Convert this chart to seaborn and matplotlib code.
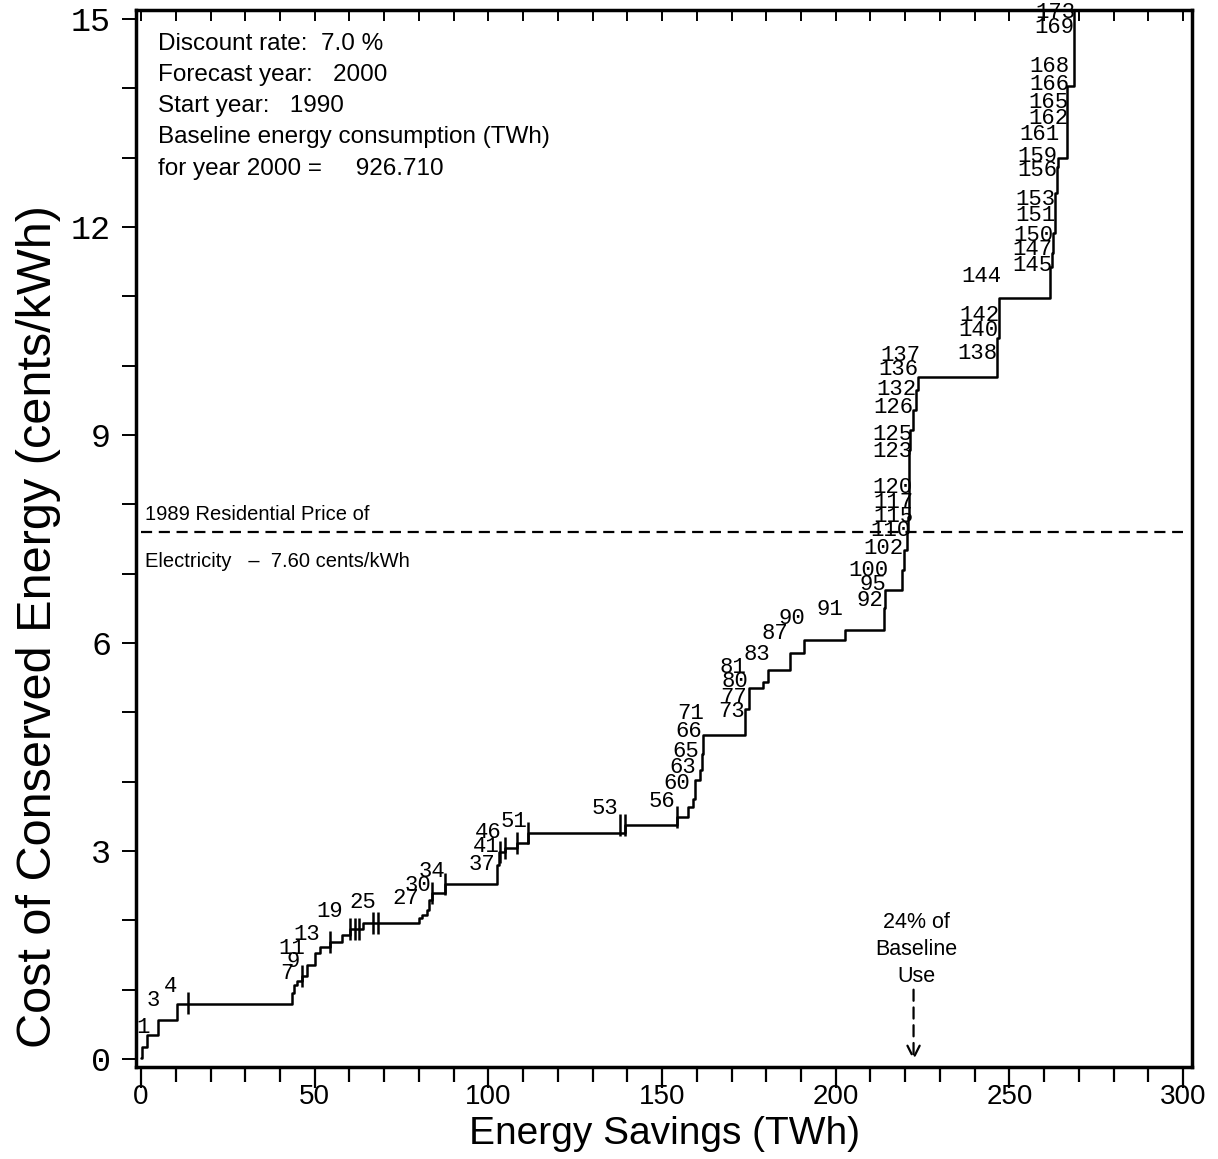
import numpy as np
import pandas as pd
import matplotlib
matplotlib.use("Agg")
import matplotlib.pyplot as plt
import seaborn as sns

# ---------------- data ----------------
step_x = [0.0, 0.3, 1.6, 5.0, 10.2, 43.4, 44.0, 45.0, 46.3, 47.7, 50.1, 51.5, 54.4,
          57.8, 60.2, 64.0, 79.9, 81.0, 82.3, 83.0, 83.7, 87.5, 102.4, 103.0, 104.8,
          108.2, 111.5, 139.4, 154.2, 157.6, 159.0, 159.5, 160.8, 161.4, 161.9,
          173.9, 175.0, 179.2, 180.6, 186.9, 190.9, 202.7, 213.9, 214.3, 219.0,
          219.8, 220.5, 220.9, 221.0, 221.2, 221.5, 222.3, 223.0, 223.6, 246.4,
          246.9, 261.7, 262.3, 262.6, 263.2, 263.6, 264.0, 266.5, 268.6, 269.4]
step_y = [0.02, 0.18, 0.35, 0.56, 0.80, 0.95, 1.07, 1.12, 1.19, 1.36, 1.53, 1.62, 1.69,
          1.79, 1.87, 1.96, 2.03, 2.08, 2.15, 2.30, 2.39, 2.53, 2.80, 2.99, 3.05,
          3.12, 3.26, 3.38, 3.49, 3.64, 3.75, 4.02, 4.17, 4.40, 4.68,
          5.05, 5.35, 5.44, 5.61, 5.85, 6.05, 6.19, 6.50, 6.76, 7.05,
          7.34, 7.60, 7.82, 8.30, 8.78, 9.07, 9.36, 9.65, 9.84, 10.40,
          10.97, 11.43, 11.62, 11.91, 12.49, 12.87, 12.99, 14.03, 15.30, 15.50]

# boundary marks between measures of near-equal cost
mark_x = [13.6, 46.3, 54.4, 60.2, 61.6, 62.6, 66.9, 68.3, 83.7, 87.5, 103.4, 104.8,
          108.2, 111.5, 137.9, 139.4, 154.2]
mark_y = [0.81, 1.19, 1.69, 1.87, 1.87, 1.87, 1.96, 1.96, 2.39, 2.53, 2.99, 3.05,
          3.12, 3.26, 3.38, 3.38, 3.49]

measure_labels = ["1", "3", "4", "7", "9", "11", "13", "19", "25", "27", "30", "34",
                  "37", "41", "46", "51", "53", "56", "60", "63", "65", "66", "71",
                  "73", "77", "80", "81", "83", "87", "90", "91", "92", "95", "100",
                  "102", "110", "115", "117", "120", "123", "125", "126", "132",
                  "136", "137", "138", "140", "142", "144", "145", "147", "150",
                  "151", "153", "156", "159", "161", "162", "165", "166", "168",
                  "169", "173"]
label_x = [0.6, 3.5, 8.4, 42.0, 43.8, 43.5, 47.8, 54.4, 63.9, 76.3, 79.8, 83.8,
           98.2, 99.3, 99.9, 107.4, 133.6, 150.0, 154.3, 156.1, 156.9, 157.8, 158.1,
           169.9, 170.5, 171.0, 170.5, 177.4, 182.6, 187.4, 198.4, 209.9, 210.8, 209.3,
           213.6, 215.7, 216.5, 216.5, 216.2, 216.2, 216.2, 216.5, 217.4,
           218.0, 218.5, 240.7, 241.0, 241.3, 241.9, 256.6, 256.6, 256.8,
           257.4, 257.4, 258.0, 258.0, 258.6, 261.2, 261.2, 261.4, 261.4,
           262.9, 263.2]
label_y = [0.46, 0.84, 1.04, 1.24, 1.41, 1.60, 1.79, 2.13, 2.25, 2.31, 2.50, 2.71,
           2.81, 3.06, 3.26, 3.42, 3.62, 3.71, 3.97, 4.21, 4.44, 4.73, 4.98,
           5.01, 5.22, 5.44, 5.65, 5.83, 6.13, 6.36, 6.48, 6.62, 6.84, 7.04,
           7.36, 7.62, 7.83, 8.03, 8.24, 8.76, 9.01, 9.39, 9.66,
           9.94, 10.15, 10.18, 10.50, 10.73, 11.28, 11.45, 11.67, 11.87,
           12.17, 12.39, 12.82, 13.01, 13.33, 13.57, 13.80, 14.06, 14.32,
           14.87, 15.10]

price_1989 = 7.60
baseline_twh = 926.710
baseline_share = 0.24
info_lines = ["Discount rate:  7.0 %",
              "Forecast year:   2000",
              "Start year:   1990",
              "Baseline energy consumption (TWh)",
              "for year 2000 =     926.710"]
x_ticks = [0, 50, 100, 150, 200, 250, 300]
y_ticks = [0, 3, 6, 9, 12, 15]

# ---------------- plot ----------------
sns.set_theme(style="ticks")
plt.rcParams["font.family"] = ["Liberation Sans", "DejaVu Sans"]
plt.rcParams.update({"text.color": "black", "axes.labelcolor": "black",
                     "xtick.color": "black", "ytick.color": "black"})

fig = plt.figure(figsize=(12.18, 11.59), dpi=100)
ax = fig.add_axes([0.1117, 0.0794, 0.867, 0.912])

df = pd.DataFrame({"savings": step_x, "cost": step_y})
sns.lineplot(data=df, x="savings", y="cost", ax=ax, drawstyle="steps-post",
             color="black", linewidth=1.8, estimator=None, sort=False)

marks = pd.DataFrame({"x": mark_x, "y": mark_y})
sns.scatterplot(data=marks, x="x", y="y", ax=ax, marker="|", s=260,
                color="black", linewidth=1.8)

ax.plot([0, 300], [price_1989, price_1989], color="black", lw=1.6,
        dashes=(5, 3))

for t, lx, ly in zip(measure_labels, label_x, label_y):
    ax.text(lx, ly, t, ha="center", va="center", fontsize=16,
            family="Liberation Mono", color="black", clip_on=False)

# info block
for i, line in enumerate(info_lines):
    ax.text(0.021, 0.968 - i * 0.0295, line, transform=ax.transAxes,
            ha="left", va="center", fontsize=17.5, color="black")

ax.text(1.0, 7.85, "1989 Residential Price of", ha="left", va="center",
        fontsize=14.5, color="black")
ax.text(1.0, 7.18, "Electricity   \u2013  7.60 cents/kWh", ha="left",
        va="center", fontsize=14.5, color="black")

# baseline arrow
xb = baseline_share * baseline_twh
ax.annotate("", xy=(xb, -0.02), xytext=(xb, 1.0),
            arrowprops=dict(arrowstyle="->", color="black", lw=1.6,
                            linestyle=(0, (5, 3)), mutation_scale=22,
                            shrinkA=0, shrinkB=0))
ax.text(xb + 0.8, 1.58, "24% of\nBaseline\nUse", ha="center", va="center",
        fontsize=15.5, color="black", linespacing=1.4)

# axes
ax.set_xlim(-1.45, 302.6)
ax.set_ylim(-0.115, 15.13)
ax.set_xticks(x_ticks)
ax.set_xticks(np.arange(0, 301, 10), minor=True)
ax.set_yticks(y_ticks)
ax.set_yticks(np.arange(0, 16, 1), minor=True)
ax.set_xticklabels([str(v) for v in x_ticks], fontsize=20)
ax.set_yticklabels([str(v) for v in y_ticks], fontsize=24, family="Liberation Mono")
ax.tick_params(axis="x", which="major", direction="out", length=15, width=1.6,
               pad=-3)
ax.tick_params(axis="x", which="minor", direction="out", length=11, width=1.6)
ax.tick_params(axis="y", which="both", direction="out", length=10, width=1.4, pad=8)
for s in ax.spines.values():
    s.set_linewidth(2.5)
    s.set_color("black")

ax.set_xlabel("Energy Savings (TWh)", fontsize=28)
ax.xaxis.set_label_coords(0.5, -0.046)
ax.set_ylabel("Cost of Conserved Energy (cents/kWh)", fontsize=35)
ax.yaxis.set_label_coords(-0.071, 0.417)

# top ticks inward (secondary axis)
top = ax.secondary_xaxis("top")
top.set_xticks(np.arange(0, 301, 10))
top.tick_params(direction="in", length=8, width=1.4, labeltop=False)
top.set_xticklabels([])
top.spines["top"].set_visible(False)
ax.tick_params(axis="x", which="both", top=False)

fig.savefig("out.png", dpi=100)
